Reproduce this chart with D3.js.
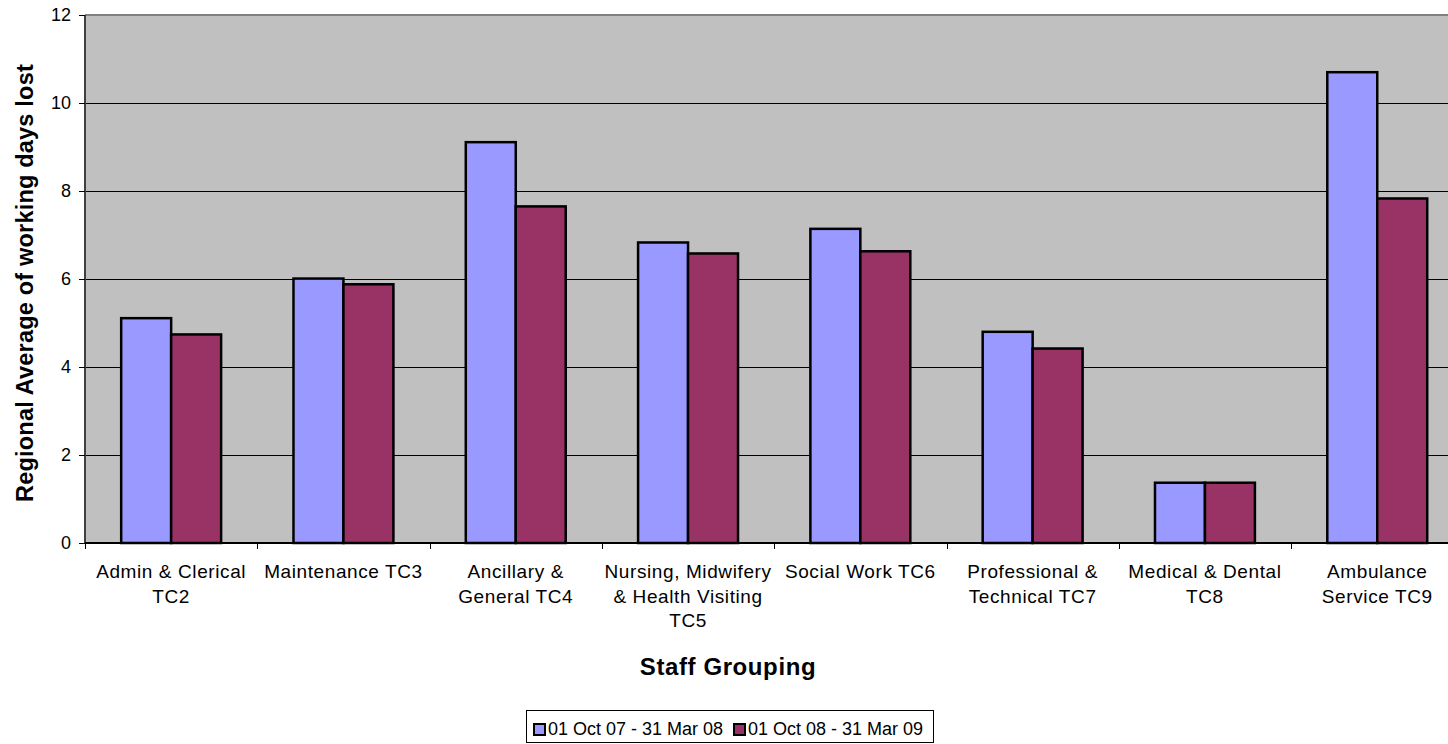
<!DOCTYPE html>
<html>
<head>
<meta charset="utf-8">
<script src="https://cdn.jsdelivr.net/npm/d3@7"></script>
<style>
  body { margin: 0; background: #fff; }
  text { font-family: "Liberation Sans", Arial, sans-serif; fill: #000; }
</style>
</head>
<body>
<div id="chart"></div>
<script>
// data
const categories = ["Admin & Clerical TC2", "Maintenance TC3", "Ancillary & General TC4",
  "Nursing, Midwifery & Health Visiting TC5", "Social Work TC6", "Professional & Technical TC7",
  "Medical & Dental TC8", "Ambulance Service TC9"];
const categoryLines = [
  ["Admin & Clerical", "TC2"],
  ["Maintenance TC3"],
  ["Ancillary &", "General TC4"],
  ["Nursing, Midwifery", "& Health Visiting", "TC5"],
  ["Social Work TC6"],
  ["Professional &", "Technical TC7"],
  ["Medical & Dental", "TC8"],
  ["Ambulance", "Service TC9"]
];
const seriesNames = ["01 Oct 07 - 31 Mar 08", "01 Oct 08 - 31 Mar 09"];
const period1 = [5.11, 6.01, 9.11, 6.83, 7.14, 4.80, 1.37, 10.70];
const period2 = [4.74, 5.88, 7.65, 6.58, 6.63, 4.42, 1.37, 7.83];
const yTicks = [0, 2, 4, 6, 8, 10, 12];

const colors = ["#9999FF", "#993366"];

const W = 1448, H = 744;
const plot = { left: 85, top: 15, right: 1463.4, bottom: 543 };

const svg = d3.select("#chart").append("svg")
    .attr("width", W)
    .attr("height", H);

let y = d3.scaleLinear().domain([0, 12]).range([plot.bottom, plot.top]);

let x0 = d3.scaleBand()
    .domain(categories)
    .range([plot.left, plot.right])
    .paddingInner(0.42)
    .paddingOuter(0.21);

let x1 = d3.scaleBand()
    .domain(seriesNames)
    .range([0, x0.bandwidth()]);

let step = x0.step();

// plot area
svg.append("rect")
    .attr("x", plot.left)
    .attr("y", plot.top)
    .attr("width", plot.right - plot.left)
    .attr("height", plot.bottom - plot.top)
    .attr("fill", "#C0C0C0");

// gridlines
svg.append("g").selectAll("line")
    .data(yTicks.filter(d => d > 0 && d < 12))
    .enter().append("line")
    .attr("x1", plot.left)
    .attr("x2", plot.right)
    .attr("y1", d => Math.round(y(d)) + 0.5)
    .attr("y2", d => Math.round(y(d)) + 0.5)
    .attr("stroke", "#000")
    .attr("stroke-width", 1);

// top border of plot area
svg.append("line")
    .attr("x1", plot.left).attr("x2", plot.right)
    .attr("y1", plot.top).attr("y2", plot.top)
    .attr("stroke", "#808080")
    .attr("stroke-width", 2);

// bars
let table = categories.map((c, i) => ({ cat: c, values: [period1[i], period2[i]] }));

let groups = svg.append("g").selectAll("g")
    .data(table)
    .enter().append("g")
    .attr("transform", d => "translate(" + x0(d.cat) + ",0)");

groups.selectAll("rect")
    .data(d => d.values.map((v, k) => ({ key: seriesNames[k], value: v, k: k })))
    .enter().append("rect")
    .attr("x", d => x1(d.key))
    .attr("y", d => y(d.value))
    .attr("width", x1.bandwidth())
    .attr("height", d => y(0) - y(d.value))
    .attr("fill", d => colors[d.k])
    .attr("stroke", "#000")
    .attr("stroke-width", 2.5);

// y axis
let yAxis = svg.append("g");
yAxis.append("line")
    .attr("x1", plot.left).attr("x2", plot.left)
    .attr("y1", plot.top).attr("y2", plot.bottom)
    .attr("stroke", "#404040").attr("stroke-width", 2);
yAxis.selectAll(".tick")
    .data(yTicks)
    .enter().append("line")
    .attr("x1", plot.left - 6).attr("x2", plot.left)
    .attr("y1", d => Math.round(y(d)) + 0.5)
    .attr("y2", d => Math.round(y(d)) + 0.5)
    .attr("stroke", "#000");
yAxis.selectAll("text")
    .data(yTicks)
    .enter().append("text")
    .attr("x", 71)
    .attr("y", d => y(d))
    .attr("dy", "0.35em")
    .attr("text-anchor", "end")
    .style("font-size", "18px")
    .text(d => d);

// x axis
let xAxis = svg.append("g");
xAxis.append("line")
    .attr("x1", plot.left).attr("x2", plot.right)
    .attr("y1", plot.bottom).attr("y2", plot.bottom)
    .attr("stroke", "#000").attr("stroke-width", 2);
xAxis.selectAll(".tick")
    .data(d3.range(categories.length + 1))
    .enter().append("line")
    .attr("x1", i => Math.round(plot.left + i * step) + 0.5)
    .attr("x2", i => Math.round(plot.left + i * step) + 0.5)
    .attr("y1", plot.bottom)
    .attr("y2", plot.bottom + 6)
    .attr("stroke", "#000");

xAxis.selectAll(".cat")
    .data(categories)
    .enter().append("text")
    .attr("class", "cat")
    .attr("text-anchor", "middle")
    .style("font-size", "19px")
    .style("letter-spacing", "0.6px")
    .each(function(d, i) {
        let t = d3.select(this);
        let cx = x0(d) + x0.bandwidth() / 2;
        categoryLines[i].forEach((line, j) => {
            t.append("tspan")
                .attr("x", cx)
                .attr("y", 578 + j * 24.5)
                .text(line);
        });
    });

// axis titles
svg.append("text")
    .attr("transform", "translate(33," + ((plot.top + plot.bottom) / 2 + 4) + ") rotate(-90)")
    .attr("text-anchor", "middle")
    .style("font-size", "23.5px")
    .style("letter-spacing", "0.2px")
    .style("font-weight", "bold")
    .text("Regional Average of working days lost");

svg.append("text")
    .attr("x", 728)
    .attr("y", 675)
    .attr("text-anchor", "middle")
    .style("font-size", "24px")
    .style("letter-spacing", "0.6px")
    .style("font-weight", "bold")
    .text("Staff Grouping");

// legend
let legend = svg.append("g");
legend.append("rect")
    .attr("x", 526.5).attr("y", 710.5)
    .attr("width", 407).attr("height", 32)
    .attr("fill", "#fff")
    .attr("stroke", "#000");

let legendX = [533, 733];
seriesNames.forEach((s, k) => {
    legend.append("rect")
        .attr("x", legendX[k] + 1).attr("y", 724)
        .attr("width", 11).attr("height", 11)
        .attr("fill", colors[k])
        .attr("stroke", "#000")
        .attr("stroke-width", 2);
    legend.append("text")
        .attr("x", legendX[k] + 15)
        .attr("y", 735)
        .style("font-size", "18px")
        .text(s);
});
</script>
</body>
</html>
